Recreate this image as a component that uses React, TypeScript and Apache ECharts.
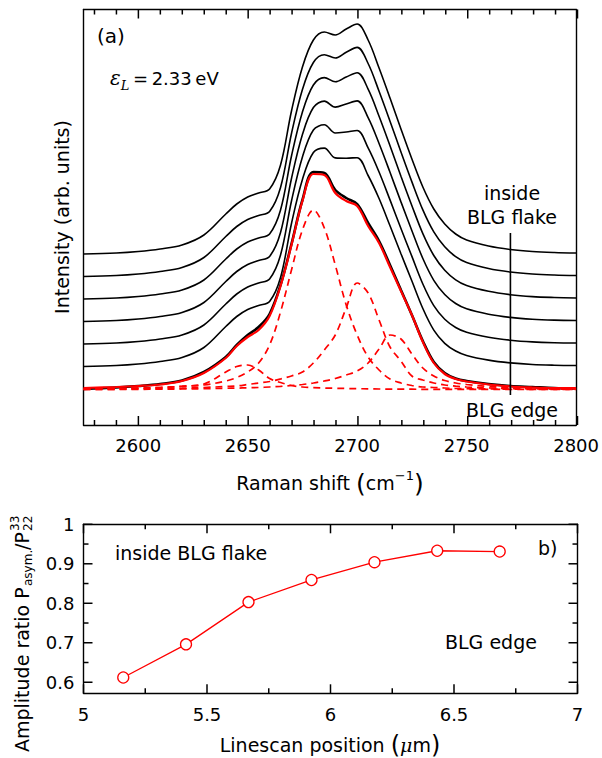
import React, { useEffect, useRef } from "react";
import * as echarts from "echarts";

// ---------- Panel (a): Raman spectra ----------
const ramanShift = [2575, 2590, 2600, 2610, 2620, 2630, 2640, 2645, 2650, 2655, 2660, 2665, 2670, 2675, 2680, 2685, 2690, 2695, 2700, 2705, 2710, 2715, 2720, 2725, 2730, 2735, 2740, 2745, 2750, 2760, 2770, 2780, 2790, 2800];

// spectra from inside the flake (top) towards the edge (bottom), with vertical offsets
const spectrum1 = [171, 172, 173.5, 176, 180, 190, 211, 221, 228, 232, 236, 260, 314, 358, 385, 393, 390, 396, 401, 385, 357, 327, 296, 266, 238, 216, 201, 191, 185, 179, 175.5, 173.5, 172.5, 172];
const spectrum2 = [148.5, 149.5, 151, 153.5, 157.5, 167.5, 188.5, 198.5, 205.5, 209.5, 213.5, 237.5, 291.5, 335.5, 362.5, 370.3, 367, 372.8, 377.6, 361.5, 333.7, 303.8, 273, 243.1, 215.1, 193.1, 178.2, 168.3, 162.4, 156.5, 153, 151, 150, 149.5];
const spectrum3 = [126, 127, 128.5, 131, 135, 145, 166, 176, 183, 187, 191, 215, 269, 313, 340, 347.4, 343.2, 348, 352.2, 335.9, 308.8, 279.3, 248.8, 219.3, 191.4, 169.5, 154.8, 145.2, 139.5, 133.7, 130.3, 128.4, 127.5, 127];
const spectrum4 = [103.5, 104.5, 106, 108.5, 112.5, 122.5, 143.5, 153.5, 160.5, 164.5, 168.5, 192.5, 246.5, 290.5, 317.5, 323.9, 317.9, 321.1, 324.1, 307.3, 281.5, 252.7, 223.1, 194.3, 166.5, 144.7, 130.5, 121.5, 116.2, 110.8, 107.6, 105.8, 104.9, 104.5];
const spectrum5 = [81, 82, 83.5, 86, 90, 100, 121, 131, 138, 142, 146, 170, 224, 268, 295, 300.2, 292, 293, 294.5, 277.1, 253, 225.1, 196.5, 168.6, 141, 119.3, 105.7, 97.5, 92.7, 87.8, 84.8, 83.1, 82.3, 82];
const spectrum6 = [58.5, 59.5, 61, 63.5, 67.5, 77.5, 98.5, 108.5, 115.5, 119.5, 123.5, 147.5, 201.5, 245.5, 272.5, 276.9, 267.1, 266.8, 267.3, 249.5, 226.5, 199.2, 171.3, 144, 116.5, 94.9, 81.7, 74, 69.6, 64.9, 62.1, 60.5, 59.8, 59.5];
const spectrum7 = [36, 37.5, 39, 41, 44.5, 53, 68, 80, 90, 98, 111, 140, 181, 225, 253, 252, 235, 227, 221, 202, 184, 160, 135, 110, 84, 63, 52, 46.5, 44, 41, 39, 38, 37, 36.5];

// fit of the edge spectrum and its four components
const fitTotal = [37, 38, 39, 40.5, 44, 52, 67, 79, 88, 95, 109, 139, 180, 224, 251, 250, 232, 224, 219, 199, 182, 158, 134, 110, 83, 62, 51, 46, 43.5, 40.5, 38.5, 37.5, 37, 37];
const peak2648 = [35.8, 36.3, 36.8, 37.5, 38.8, 41, 53, 58.5, 60, 55, 46.5, 42.5, 39.5, 38, 37.3, 37, 36.7, 36.5, 36.3, 36.2, 36, 35.9, 35.8, 35.8, 35.7, 35.7, 35.7, 35.6, 35.6, 35.6, 35.6, 35.5, 35.5, 35.5];
const peak2680 = [36, 36.5, 37, 37.5, 38.5, 40, 44, 47.5, 53, 62, 80, 113, 155, 195, 215, 197, 160, 120, 90, 68, 55, 46, 42, 39.5, 38, 37.5, 37, 36.5, 36.3, 36, 35.8, 35.7, 35.6, 35.5];
const peak2701 = [35.5, 35.7, 36, 36.3, 36.8, 37.5, 38.5, 39, 40.5, 42, 43.5, 46, 49, 53, 62, 75, 90, 117, 142, 132, 105, 78, 64, 49, 45, 42, 40, 38.8, 38, 37, 36.5, 36.2, 36, 35.8];
const peak2716 = [35.5, 35.6, 35.7, 35.8, 36, 36.3, 36.7, 36.9, 37.2, 37.5, 38, 38.6, 39.5, 40.5, 42, 44, 46.5, 50, 54, 62, 76, 90, 86, 71, 57, 49, 44.5, 42, 40.5, 38.5, 37.5, 37, 36.5, 36.2];

const markerShift = 2770;
const markerSpan = [30, 192];

const shiftMajorTicks = [2600, 2650, 2700, 2750, 2800];
const shiftMinorTicks = [2580, 2590, 2610, 2620, 2630, 2640, 2660, 2670, 2680, 2690, 2710, 2720, 2730, 2740, 2760, 2770, 2780, 2790];

// ---------- Panel (b): amplitude ratio ----------
const linescanPosition = [5.161, 5.415, 5.668, 5.923, 6.178, 6.432, 6.685];
const amplitudeRatio = [0.612, 0.696, 0.803, 0.859, 0.904, 0.933, 0.931];
const positionMajorTicks = [5, 5.5, 6, 6.5, 7];
const positionMinorTicks = [5.25, 5.75, 6.25, 6.75];
const ratioMajorTicks = [0.6, 0.7, 0.8, 0.9, 1];
const ratioMinorTicks = [0.65, 0.75, 0.85, 0.95];

const SHIFT_MIN = 2575;
const SHIFT_MAX = 2800;
const INTENSITY_MAX = 415.5;
const POS_MIN = 5;
const POS_MAX = 7;
const RATIO_MIN = 0.572;
const RATIO_MAX = 1;

// grid geometry (pixels)
const GA = { left: 83.5, top: 9.5, width: 494, height: 415.5 };
const GB = { left: 83.5, top: 524.3, width: 494, height: 169 };

const FONT = "DejaVu Sans";
const SERIF = "DejaVu Serif";
const RED = "#ff0000";

const zip = (xs: number[], ys: number[]) => xs.map((x, i) => [x, ys[i]]);

export default function App() {
  const ref = useRef<HTMLDivElement>(null);

  useEffect(() => {
    document.body.style.margin = "0";
    const chart = echarts.init(ref.current!, null, { renderer: "svg" });

    const labelStyle = { fontFamily: FONT, fontSize: 18, color: "#000" };
    const fmt = (v: number) => String(+Number(v).toFixed(2));

    const baseAxis = (gridIndex: number, position: string, min: number, max: number, labelValues: number[] | null, margin = 11) => ({
      gridIndex,
      type: "value",
      position,
      min,
      max,
      axisLine: { show: true, onZero: false, lineStyle: { color: "#000", width: 1.4 } },
      splitLine: { show: false },
      axisTick: { show: false },
      axisLabel: labelValues
        ? { show: true, customValues: labelValues, margin, formatter: fmt, ...labelStyle }
        : { show: false },
    });

    const spectra = [spectrum1, spectrum2, spectrum3, spectrum4, spectrum5, spectrum6, spectrum7];
    const peaks = [peak2648, peak2680, peak2701, peak2716];

    const series: any[] = [];
    spectra.forEach((s, i) => {
      series.push({
        type: "line",
        xAxisIndex: 0,
        yAxisIndex: 0,
        data: zip(ramanShift, s),
        symbol: "none",
        smooth: 0.35,
        lineStyle: { color: "#000", width: i === 6 ? 2.6 : 1.6 },
      });
    });
    peaks.forEach((p) => {
      series.push({
        type: "line",
        xAxisIndex: 0,
        yAxisIndex: 0,
        data: zip(ramanShift, p),
        symbol: "none",
        smooth: 0.35,
        lineStyle: { color: RED, width: 1.7, type: [7, 5] },
      });
    });
    series.push({
      type: "line",
      xAxisIndex: 0,
      yAxisIndex: 0,
      data: zip(ramanShift, fitTotal),
      symbol: "none",
      smooth: 0.35,
      lineStyle: { color: RED, width: 2.2 },
    });
    series.push({
      type: "line",
      xAxisIndex: 0,
      yAxisIndex: 0,
      data: markerSpan.map((v) => [markerShift, v]),
      symbol: "none",
      lineStyle: { color: "#000", width: 1.6 },
    });
    series.push({
      type: "line",
      xAxisIndex: 2,
      yAxisIndex: 2,
      data: zip(linescanPosition, amplitudeRatio),
      symbol: "circle",
      symbolSize: 11,
      itemStyle: { color: "#fff", borderColor: RED, borderWidth: 1.3 },
      lineStyle: { color: RED, width: 1.3 },
    });

    // ---- inward tick marks (graphic lines, same linear maps as the axes) ----
    const ticks: any[] = [];
    const seg = (x1: number, y1: number, x2: number, y2: number) => ({
      type: "line",
      shape: { x1, y1, x2, y2 },
      style: { stroke: "#000", lineWidth: 1.5 },
    });
    const mapX = (g: any, min: number, max: number, v: number) => g.left + ((v - min) / (max - min)) * g.width;
    const mapY = (g: any, min: number, max: number, v: number) => g.top + g.height - ((v - min) / (max - min)) * g.height;
    const hTicks = (g: any, min: number, max: number, vals: number[], len: number) => {
      vals.forEach((v) => {
        const x = mapX(g, min, max, v);
        ticks.push(seg(x, g.top + g.height, x, g.top + g.height - len));
        ticks.push(seg(x, g.top, x, g.top + len));
      });
    };
    const vTicks = (g: any, min: number, max: number, vals: number[], len: number) => {
      vals.forEach((v) => {
        const y = mapY(g, min, max, v);
        ticks.push(seg(g.left, y, g.left + len, y));
        ticks.push(seg(g.left + g.width, y, g.left + g.width - len, y));
      });
    };
    hTicks(GA, SHIFT_MIN, SHIFT_MAX, shiftMajorTicks, 9);
    hTicks(GA, SHIFT_MIN, SHIFT_MAX, shiftMinorTicks, 5);
    hTicks(GB, POS_MIN, POS_MAX, positionMajorTicks, 9);
    hTicks(GB, POS_MIN, POS_MAX, positionMinorTicks, 5);
    vTicks(GB, RATIO_MIN, RATIO_MAX, ratioMajorTicks, 9);
    vTicks(GB, RATIO_MIN, RATIO_MAX, ratioMinorTicks, 5);

    const txt = (text: string, x: number, y: number, size: number, align = "left") => ({
      type: "text",
      x,
      y,
      style: {
        text,
        fontFamily: FONT,
        fontSize: size,
        fill: "#000",
        textAlign: align,
        textVerticalAlign: "middle",
      },
    });

    const texts: any[] = [
      txt("(a)", 97, 36, 20),
      {
        type: "text",
        x: 110,
        y: 78,
        style: {
          text: "{e|ε}{l|L}{n|\u2009=\u20092.33\u2009eV}",
          textAlign: "left",
          textVerticalAlign: "middle",
          fill: "#000",
          rich: {
            e: { fontFamily: SERIF, fontStyle: "italic", fontSize: 20, lineHeight: 28 },
            l: { fontFamily: SERIF, fontStyle: "italic", fontSize: 13, lineHeight: 12, verticalAlign: "bottom" },
            n: { fontFamily: FONT, fontSize: 18, lineHeight: 28 },
          },
        },
      },
      txt("inside", 512, 193, 19, "center"),
      txt("BLG flake", 512, 217, 19, "center"),
      txt("BLG edge", 512, 410, 19, "center"),
      {
        type: "text",
        x: 62,
        y: 217,
        rotation: Math.PI / 2,
        style: {
          text: "Intensity (arb. units)",
          fontFamily: FONT,
          fontSize: 19,
          fill: "#000",
          textAlign: "center",
          textVerticalAlign: "middle",
        },
      },
      {
        type: "text",
        x: 330,
        y: 483,
        style: {
          text: "{n|Raman shift }{p|(}{n|cm}{s|−1}{p|)}",
          textAlign: "center",
          textVerticalAlign: "middle",
          fill: "#000",
          rich: {
            n: { fontFamily: FONT, fontSize: 19, lineHeight: 28 },
            p: { fontFamily: FONT, fontSize: 25, lineHeight: 28 },
            s: { fontFamily: FONT, fontSize: 13, lineHeight: 14, verticalAlign: "top" },
          },
        },
      },
      txt("inside BLG flake", 115, 553, 19),
      txt("BLG edge", 445, 642, 19),
      txt("b)", 538, 548, 19),
      {
        type: "text",
        x: 330,
        y: 745,
        style: {
          text: "{n|Linescan position }{p|(}{m|μ}{n|m}{p|)}",
          textAlign: "center",
          textVerticalAlign: "middle",
          fill: "#000",
          rich: {
            n: { fontFamily: FONT, fontSize: 19, lineHeight: 28 },
            p: { fontFamily: FONT, fontSize: 24, lineHeight: 28 },
            m: { fontFamily: SERIF, fontStyle: "italic", fontSize: 19, lineHeight: 28 },
          },
        },
      },
      {
        type: "group",
        x: 22,
        y: 752,
        rotation: Math.PI / 2,
        children: [
          txt("Amplitude ratio P", 0, 0, 19),
          txt("asym.", 166, 6, 12),
          txt("/P", 202, 0, 19),
          txt("33", 221, -7, 12),
          txt("22", 221, 6, 12),
        ],
      },
    ];

    const option: any = {
      animation: false,
      grid: [
        { ...GA, show: false },
        { ...GB, show: false },
      ],
      xAxis: [
        baseAxis(0, "bottom", SHIFT_MIN, SHIFT_MAX, shiftMajorTicks),
        baseAxis(0, "top", SHIFT_MIN, SHIFT_MAX, null),
        baseAxis(1, "bottom", POS_MIN, POS_MAX, positionMajorTicks, 12),
        baseAxis(1, "top", POS_MIN, POS_MAX, null),
      ],
      yAxis: [
        baseAxis(0, "left", 0, INTENSITY_MAX, null),
        baseAxis(0, "right", 0, INTENSITY_MAX, null),
        baseAxis(1, "left", RATIO_MIN, RATIO_MAX, ratioMajorTicks, 9),
        baseAxis(1, "right", RATIO_MIN, RATIO_MAX, null),
      ],
      series,
      graphic: { elements: [...ticks, ...texts] },
    };

    chart.setOption(option);
    return () => chart.dispose();
  }, []);

  return <div ref={ref} style={{ width: 602, height: 758 }} />;
}
